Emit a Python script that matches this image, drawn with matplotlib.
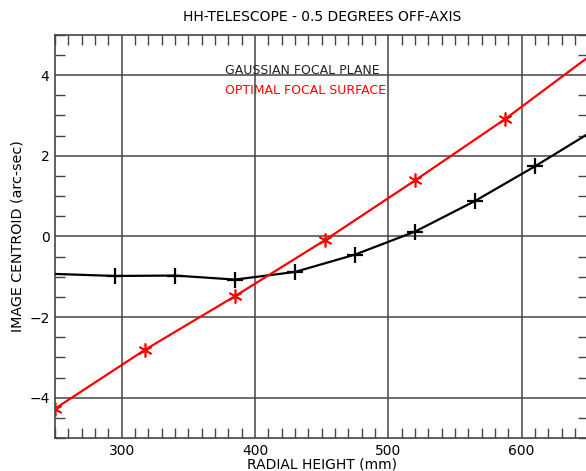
import matplotlib
matplotlib.use("Agg")
import matplotlib.pyplot as plt
from matplotlib.ticker import MultipleLocator

# Gaussian focal plane (black) - image centroid vs radial height
gauss_x = [250, 295, 340, 385, 430, 475, 520, 565, 610, 650]
gauss_y = [-0.93, -0.98, -0.97, -1.07, -0.88, -0.45, 0.12, 0.88, 1.74, 2.55]

# Optimal focal surface (red)
opt_x = [250, 317.5, 385, 452.5, 520, 587.5, 650]
opt_y = [-4.27, -2.81, -1.48, -0.09, 1.39, 2.91, 4.45]

x_ticks = [300, 400, 500, 600]
y_ticks = [-4, -2, 0, 2, 4]

fig = plt.figure(figsize=(5.86, 4.71), dpi=100)
ax = fig.add_axes([0.094, 0.070, 0.910, 0.856])

# grid lines at major ticks
for xv in x_ticks:
    ax.axvline(xv, color='#444444', lw=1.1, zorder=1)
for yv in y_ticks:
    ax.axhline(yv, color='#444444', lw=1.1, zorder=1)

ax.plot(gauss_x, gauss_y, color='black', lw=1.6, marker='+', ms=11, mew=1.6,
        markevery=list(range(1, 9)), zorder=3)
ax.plot(opt_x, opt_y, color='red', lw=1.6, marker=(6, 2, 0), ms=10, mew=1.2,
        markevery=list(range(0, 6)), zorder=3)

ax.set_xlim(250, 650)
ax.set_ylim(-5, 5)
ax.set_xticks(x_ticks)
ax.set_yticks(y_ticks)
ax.xaxis.set_minor_locator(MultipleLocator(10))
ax.yaxis.set_minor_locator(MultipleLocator(0.5))
ax.tick_params(which='major', length=0, labelsize=10, pad=4)
ax.tick_params(which='minor', direction='in', length=7, width=1, color='#444444',
               top=True, right=True)
for s in ax.spines.values():
    s.set_color('#444444')
    s.set_linewidth(1.2)

ax.set_title('HH-TELESCOPE - 0.5 DEGREES OFF-AXIS', fontsize=10, pad=10)
ax.set_xlabel('RADIAL HEIGHT (mm)', fontsize=10, labelpad=0)
ax.set_ylabel('IMAGE CENTROID (arc-sec)', fontsize=10.3, labelpad=3)

# legend-like labels
fig.text(225 / 586, 1 - 70 / 471, 'GAUSSIAN FOCAL PLANE', fontsize=9, color='#222222',
         va='center')
fig.text(225 / 586, 1 - 91 / 471, 'OPTIMAL FOCAL SURFACE', fontsize=9, color='red',
         va='center')

fig.savefig('out.png', dpi=100)
